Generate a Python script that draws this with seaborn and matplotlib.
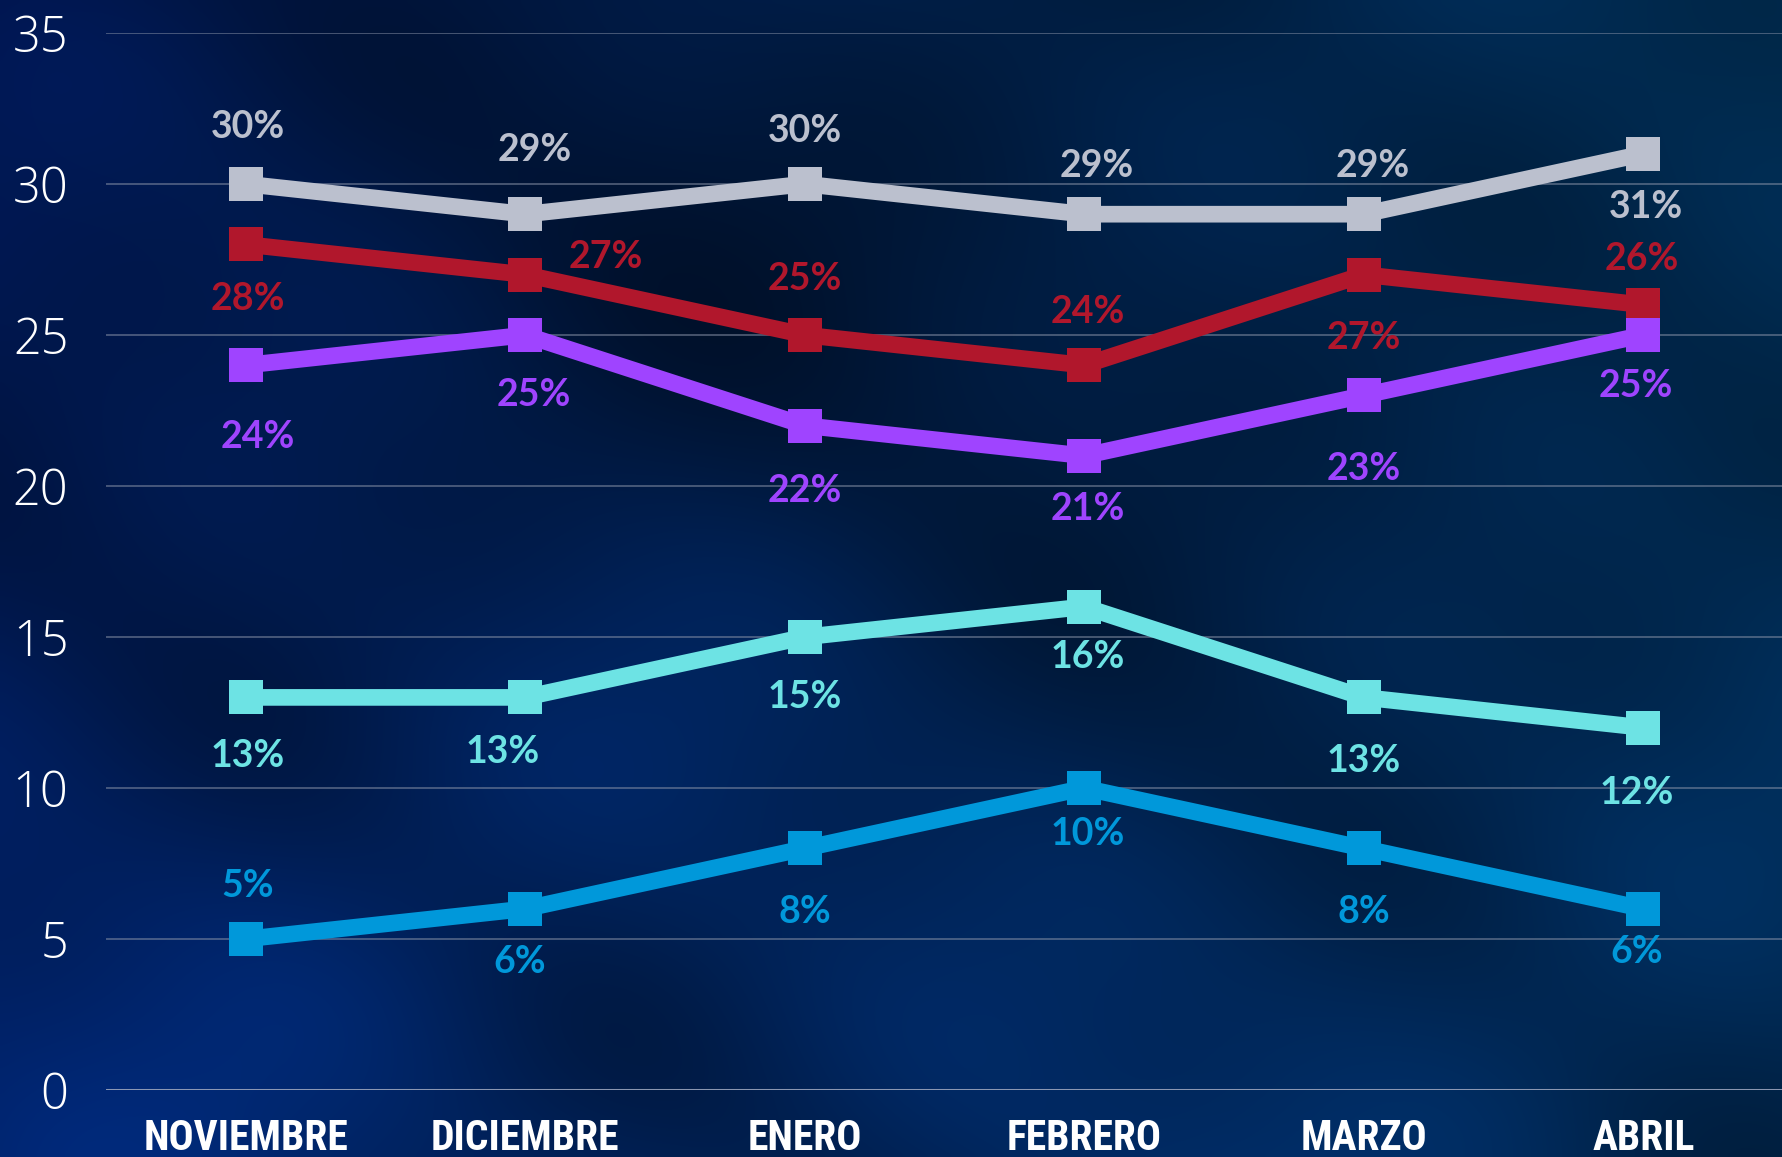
import numpy as np
import pandas as pd
import matplotlib
matplotlib.use("Agg")
import matplotlib.pyplot as plt
import matplotlib.transforms as mtransforms
from matplotlib import font_manager as fm
import seaborn as sns

# ---------------- data ----------------
months = ["NOVIEMBRE", "DICIEMBRE", "ENERO", "FEBRERO", "MARZO", "ABRIL"]
gray_vals = [30, 29, 30, 29, 29, 31]
red_vals = [28, 27, 25, 24, 27, 26]
purple_vals = [24, 25, 22, 21, 23, 25]
cyan_vals = [13, 13, 15, 16, 13, 12]
blue_vals = [5, 6, 8, 10, 8, 6]
y_ticks = [0, 5, 10, 15, 20, 25, 30, 35]

series_names = ["gris", "rojo", "morado", "cian", "azul"]
series_vals = [gray_vals, red_vals, purple_vals, cyan_vals, blue_vals]
colors = ["#BBC0CE", "#B1172C", "#9F44FF", "#6DE3E4", "#0098DA"]

# label offsets in points (dx, dy), styling only
offsets = [
    [(1.6, 41), (6.5, 46), (0, 38), (9, 35), (6.5, 35), (1.6, -38)],
    [(1.6, -39), (58, 13), (0, 40), (2.5, 38.5), (0, -46), (-1, 33)],
    [(9, -52), (6.5, -43), (0, -47), (2.5, -38), (0, -53), (-5, -37)],
    [(1.6, -42), (-16, -39), (0, -43), (2.5, -36), (0, -46), (-5, -47)],
    [(1.6, 38), (-4, -38.5), (0, -46), (2.5, -33), (0, -46), (-5, -31)],
]

rows = []
for name, vals in zip(series_names, series_vals):
    for i, v in enumerate(vals):
        rows.append({"serie": name, "x": i, "valor": v})
df = pd.DataFrame(rows)

# ---------------- fonts ----------------
sns.set_theme(style="dark")
names = {f.name for f in fm.fontManager.ttflist}
cond_font = None
for n in ["Liberation Sans Narrow", "DejaVu Sans Condensed", "Roboto Condensed", "Open Sans Condensed"]:
    if n in names:
        cond_font = n
        break
plt.rcParams["font.family"] = ["Lato", "DejaVu Sans"]

W, H = 1783, 1157
fig = plt.figure(figsize=(W / 100, H / 100), dpi=100)

# ---------------- background ----------------
bg = fig.add_axes([0, 0, 1, 1], zorder=0)
ny, nx = 240, 370
yy, xx = np.mgrid[0:1:ny * 1j, 0:1:nx * 1j]
c_tl = np.array([0, 20, 72]) / 255
c_tr = np.array([0, 46, 84]) / 255
c_bl = np.array([0, 36, 108]) / 255
c_br = np.array([0, 42, 86]) / 255
base = (c_tl[None, None, :] * ((1 - xx) * (1 - yy))[..., None]
        + c_tr[None, None, :] * (xx * (1 - yy))[..., None]
        + c_bl[None, None, :] * ((1 - xx) * yy)[..., None]
        + c_br[None, None, :] * (xx * yy)[..., None])
tex = (np.sin(9 * xx + 1.3) * np.sin(7.5 * yy + 0.4)
       + 0.6 * np.sin(13.1 * xx - 9.2 * yy + 2.0)
       + 0.5 * np.sin(17.3 * xx + 12.1 * yy + 0.7)
       + 0.35 * np.sin(23.0 * xx - 19.0 * yy + 1.1))
tex = (tex - tex.min()) / (tex.max() - tex.min())
dark = np.exp(-(((xx - 0.5) / 0.35) ** 2 + ((yy - 0.3) / 0.3) ** 2))
img = base * (0.7 + 0.5 * tex[..., None]) * (1 - 0.3 * dark[..., None])
img = np.clip(img, 0, 1)
bg.imshow(img, extent=[0, 1, 0, 1], aspect="auto", interpolation="bicubic", origin="upper")
bg.set_axis_off()

# ---------------- main axes ----------------
ax = fig.add_axes([106 / W, 1 - 1090 / H, 1 - 106 / W, (1090 - 33) / H], zorder=1)
ax.patch.set_alpha(0)

for name, col in zip(series_names, colors):
    sub = df[df["serie"] == name]
    sns.lineplot(data=sub, x="x", y="valor", ax=ax, color=col, linewidth=12,
                 marker="s", markersize=25, markeredgewidth=0, legend=False,
                 zorder=3)

for vals, col, offs in zip(series_vals, colors, offsets):
    for i, v in enumerate(vals):
        dx, dy = offs[i]
        ax.annotate(f"{v}%", (i, v), xytext=(dx, dy), textcoords="offset points",
                    ha="center", va="center", color=col, fontsize=27,
                    fontweight="bold", family=["Lato", "DejaVu Sans"], zorder=5)

ax.set_xlim(-0.5, 5.5)
ax.set_ylim(0, 35)
ax.set_yticks(y_ticks)
ax.set_yticklabels([str(t) for t in y_ticks], fontsize=35, color="white",
                   family=["Open Sans", "Lato", "DejaVu Sans"])
for lab in ax.get_yticklabels():
    lab.set_fontweight(300)
ax.set_xticks(range(len(months)))
xfam = [cond_font, "DejaVu Sans"] if cond_font else ["DejaVu Sans"]
ax.set_xticklabels(months, fontsize=30, color="white", fontweight="bold",
                   family=xfam, fontstretch="condensed")
shift = mtransforms.ScaledTranslation(12 / 100, 0, fig.dpi_scale_trans)
for lab in ax.get_xticklabels():
    lab.set_transform(lab.get_transform() + shift)
ax.tick_params(axis="y", length=0, pad=27)
ax.tick_params(axis="x", length=0, pad=20)
ax.set_xlabel("")
ax.set_ylabel("")
ax.grid(False)
for t in y_ticks[1:]:
    ax.axhline(t, color="#8a93a8", alpha=0.55, linewidth=1.3, zorder=1)
ax.axhline(0, color="#9aa4bc", alpha=0.9, linewidth=2.2, zorder=1)
for s in ax.spines.values():
    s.set_visible(False)

fig.savefig("out.png", dpi=100)
